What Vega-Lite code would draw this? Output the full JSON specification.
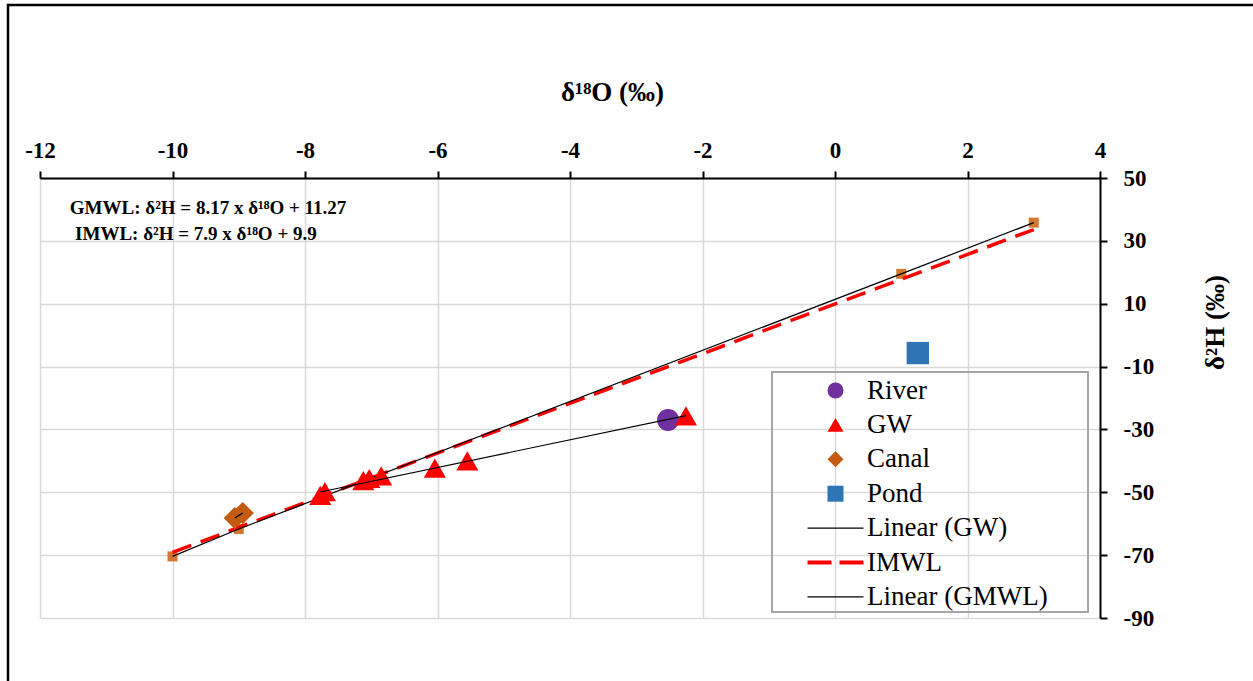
{
  "$schema": "https://vega.github.io/schema/vega-lite/v6.json",
  "width": 1060,
  "height": 440,
  "autosize": {"type": "none"},
  "padding": {"left": 40, "top": 178, "right": 153, "bottom": 63},
  "background": "white",
  "config": {
    "view": {"stroke": null},
    "font": "Liberation Serif",
    "legend": {"labelFont": "Liberation Serif", "labelFontSize": 27, "labelColor": "black"}
  },
  "datasets": {
    "samples": [
      {"series": "Canal", "d18O": -9.06, "d2H": -58.2},
      {"series": "Canal", "d18O": -8.94, "d2H": -56.6},
      {"series": "River", "d18O": -2.52, "d2H": -27.0},
      {"series": "GW", "d18O": -7.77, "d2H": -51.0},
      {"series": "GW", "d18O": -7.70, "d2H": -49.8},
      {"series": "GW", "d18O": -7.12, "d2H": -46.3},
      {"series": "GW", "d18O": -7.03, "d2H": -45.6},
      {"series": "GW", "d18O": -6.85, "d2H": -44.8},
      {"series": "GW", "d18O": -6.04, "d2H": -42.3},
      {"series": "GW", "d18O": -5.55, "d2H": -40.0},
      {"series": "GW", "d18O": -2.25, "d2H": -25.7},
      {"series": "Pond", "d18O": 1.25, "d2H": -5.7}
    ],
    "gmwl": [
      {"d18O": -10, "d2H": -70.4},
      {"d18O": -9, "d2H": -61.7},
      {"d18O": 1, "d2H": 19.5},
      {"d18O": 3, "d2H": 35.8}
    ],
    "imwl": [
      {"d18O": -10, "d2H": -69.1},
      {"d18O": 3, "d2H": 33.6}
    ],
    "gwtrend": [
      {"d18O": -7.77, "d2H": -49.9},
      {"d18O": -2.25, "d2H": -25.6}
    ]
  },
  "layer": [
    {
      "data": {"values": [{}]},
      "mark": {"type": "rect", "fill": null, "stroke": "black", "strokeWidth": 2.5, "clip": false},
      "encoding": {
        "x": {"datum": -12.483, "type": "quantitative"},
        "x2": {"datum": 20},
        "y": {"datum": 105.04, "type": "quantitative"},
        "y2": {"datum": -200}
      }
    },
    {
      "data": {"values": [{}]},
      "mark": {"type": "rect", "fill": null, "stroke": "#a6a6a6", "strokeWidth": 2},
      "encoding": {
        "x": {"datum": -0.951, "type": "quantitative"},
        "x2": {"datum": 3.819},
        "y": {"datum": -11.72, "type": "quantitative"},
        "y2": {"datum": -88.08}
      }
    },
    {
      "data": {"name": "gmwl"},
      "mark": {"type": "point", "shape": "square", "filled": true, "opacity": 1, "size": 100, "color": "#D2772F"},
      "encoding": {
        "x": {"field": "d18O", "type": "quantitative"},
        "y": {"field": "d2H", "type": "quantitative"}
      }
    },
    {
      "data": {"name": "imwl"},
      "mark": {"type": "line", "color": "#FF0000", "strokeWidth": 3.5, "strokeDash": [20, 10]},
      "encoding": {
        "x": {"field": "d18O", "type": "quantitative"},
        "y": {"field": "d2H", "type": "quantitative"}
      }
    },
    {
      "data": {"name": "gmwl"},
      "mark": {"type": "line", "color": "black", "strokeWidth": 1.2},
      "encoding": {
        "x": {"field": "d18O", "type": "quantitative"},
        "y": {"field": "d2H", "type": "quantitative"}
      }
    },
    {
      "data": {"name": "samples"},
      "mark": {"type": "point", "filled": true, "opacity": 1, "strokeWidth": 0},
      "encoding": {
        "x": {
          "field": "d18O", "type": "quantitative",
          "scale": {"domain": [-12, 4], "nice": false, "zero": false},
          "axis": {
            "orient": "top", "values": [-12, -10, -8, -6, -4, -2, 0, 2, 4],
            "labelExpr": "'' + datum.value",
            "title": "δ¹⁸O (‰)", "titleFont": "Liberation Serif", "titleFontSize": 27, "titleFontWeight": "bold", "titleColor": "black",
            "titleX": 572, "titleY": -86, "titleBaseline": "middle", "titleAlign": "center", "titleAnchor": null,
            "labelFont": "Liberation Serif", "labelFontSize": 23, "labelFontWeight": "bold", "labelColor": "black",
            "labelPadding": 9, "labelFlush": false, "labelOverlap": false,
            "tickSize": 7, "tickColor": "black", "tickWidth": 2,
            "domainColor": "black", "domainWidth": 2,
            "grid": true, "gridColor": "#d9d9d9", "gridWidth": 1.5
          }
        },
        "y": {
          "field": "d2H", "type": "quantitative",
          "scale": {"domain": [-90, 50], "nice": false, "zero": false},
          "axis": {
            "orient": "right", "values": [-90, -70, -50, -30, -10, 10, 30, 50],
            "labelExpr": "'' + datum.value",
            "title": "δ²H (‰)", "titleFont": "Liberation Serif", "titleFontSize": 27, "titleFontWeight": "bold", "titleColor": "black",
            "titleAngle": 270, "titleX": 115, "titleY": 144, "titleBaseline": "middle", "titleAlign": "center", "titleAnchor": null,
            "labelFont": "Liberation Serif", "labelFontSize": 23, "labelFontWeight": "bold", "labelColor": "black",
            "labelPadding": 16, "labelAlign": "left", "labelFlush": false, "labelOverlap": false,
            "tickSize": 7, "tickColor": "black", "tickWidth": 2,
            "domainColor": "black", "domainWidth": 2,
            "grid": true, "gridColor": "#d9d9d9", "gridWidth": 1.5
          }
        },
        "color": {
          "field": "series", "type": "nominal",
          "scale": {
            "domain": ["River", "GW", "Canal", "Pond", "Linear (GW)", "IMWL", "Linear (GMWL)"],
            "range": ["#7030A0", "#FF0000", "#C55A11", "#2E75B6", "black", "#FF0000", "black"]
          },
          "legend": {
            "orient": "none", "legendX": 782, "legendY": 199, "title": null,
            "labelFont": "Liberation Serif", "labelFontSize": 27, "labelColor": "black", "labelLimit": 400,
            "symbolSize": 256, "symbolOpacity": 1, "symbolStrokeWidth": 0,
            "labelOffset": 18, "rowPadding": 6.4, "padding": 0
          }
        },
        "shape": {
          "field": "series", "type": "nominal",
          "scale": {
            "domain": ["River", "GW", "Canal", "Pond", "Linear (GW)", "IMWL", "Linear (GMWL)"],
            "range": ["circle", "triangle-up", "diamond", "square",
              "M-3.5,-0.07H3.5V0.07H-3.5Z",
              "M-3.5,-0.25H-0.5V0.25H-3.5ZM0.5,-0.25H3.5V0.25H0.5Z",
              "M-3.5,-0.07H3.5V0.07H-3.5Z"]
          },
          "legend": {
            "orient": "none", "legendX": 782, "legendY": 199, "title": null,
            "labelFont": "Liberation Serif", "labelFontSize": 27, "labelColor": "black", "labelLimit": 400,
            "symbolSize": 256, "symbolOpacity": 1, "symbolStrokeWidth": 0,
            "labelOffset": 18, "rowPadding": 6.4, "padding": 0
          }
        },
        "size": {
          "field": "series", "type": "nominal",
          "scale": {"domain": ["River", "GW", "Canal", "Pond"], "range": [484, 500, 484, 441]},
          "legend": null
        }
      }
    },
    {
      "data": {"name": "gwtrend"},
      "mark": {"type": "line", "color": "black", "strokeWidth": 1.2},
      "encoding": {
        "x": {"field": "d18O", "type": "quantitative"},
        "y": {"field": "d2H", "type": "quantitative"}
      }
    },
    {
      "data": {"name": "samples"},
      "transform": [{"filter": "datum.series === 'Canal'"}],
      "mark": {"type": "line", "color": "black", "strokeWidth": 1.2},
      "encoding": {
        "x": {"field": "d18O", "type": "quantitative"},
        "y": {"field": "d2H", "type": "quantitative"}
      }
    },
    {
      "data": {"values": [{}]},
      "mark": {"type": "text", "align": "left", "baseline": "middle", "font": "Liberation Serif", "fontSize": 19, "fontWeight": "bold", "color": "black", "text": "GMWL:  δ²H = 8.17 x δ¹⁸O + 11.27"},
      "encoding": {
        "x": {"datum": -11.55, "type": "quantitative"},
        "y": {"datum": 40.45, "type": "quantitative"}
      }
    },
    {
      "data": {"values": [{}]},
      "mark": {"type": "text", "align": "left", "baseline": "middle", "font": "Liberation Serif", "fontSize": 19, "fontWeight": "bold", "color": "black", "text": "IMWL:  δ²H = 7.9 x δ¹⁸O + 9.9"},
      "encoding": {
        "x": {"datum": -11.47, "type": "quantitative"},
        "y": {"datum": 32.2, "type": "quantitative"}
      }
    }
  ]
}
